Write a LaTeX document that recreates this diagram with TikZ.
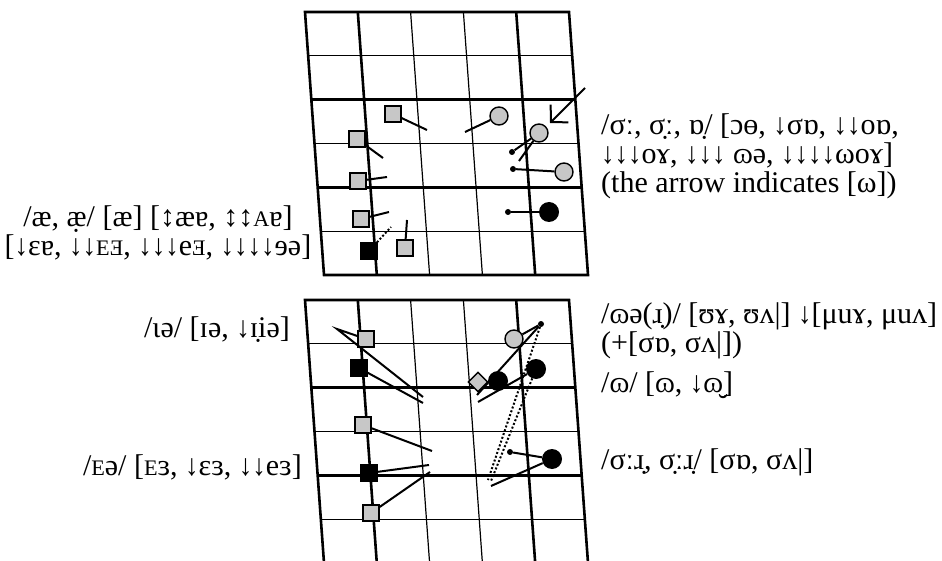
\documentclass[tikz,border=0pt]{standalone}
\usepackage{graphicx}
\usepackage{fontspec}
\setmainfont{Liberation Serif}
\usetikzlibrary{arrows.meta,shapes.geometric}

% freccia stretta e maiuscoletti finti
\newcommand{\dn}{\scalebox{0.9}[1]{\char"2193}}
\newcommand{\smc}[1]{\scalebox{0.74}{#1}}
\newcommand{\revE}{\reflectbox{\smc{E}}}

\begin{document}
\begin{tikzpicture}[
    x=1pt, y=-1pt,
    % Stili
    lab/.style={inner sep=0pt, font=\fontsize{30}{29}\selectfont},
    grid_thin/.style={line width=1.2pt},
    grid_thick/.style={line width=2.6pt},
    greysq/.style={rectangle, draw, line width=1.4pt, fill=black!22, minimum size=16pt, inner sep=0pt},
    blacksq/.style={greysq, fill=black},
    greydot/.style={circle, draw, line width=1.4pt, fill=black!22, minimum size=18pt, inner sep=0pt},
    blackdot/.style={circle, fill=black, minimum size=20pt, inner sep=0pt},
    smalldot/.style={circle, fill=black, minimum size=6pt, inner sep=0pt},
    greydiam/.style={diamond, draw, line width=1.4pt, fill=black!22, minimum size=20pt, inner sep=0pt},
    link/.style={line width=2pt},
    dotlink/.style={line width=2pt, dotted}
  ]
  \useasboundingbox (0,0) rectangle (942,561);

  % Griglia superiore
  \begin{scope}[shift={(305,12)}, x={(52.8pt,0pt)}, y={(3.1667pt,-43.83pt)}]
    \foreach \i in {2,3} \draw[grid_thin] (\i,0) -- (\i,6);
    \foreach \j in {1,3,5} \draw[grid_thin] (0,\j) -- (5,\j);
    \foreach \i in {1,4} \draw[grid_thick] (\i,0) -- (\i,6);
    \foreach \j in {2,4} \draw[grid_thick] (0,\j) -- (5,\j);
    \draw[grid_thick] (0,0) -- (5,0) -- (5,6) -- (0,6) -- cycle;
  \end{scope}

  % Griglia inferiore
  \begin{scope}[shift={(305,300)}, x={(52.8pt,0pt)}, y={(3.1667pt,-43.83pt)}]
    \foreach \i in {2,3} \draw[grid_thin] (\i,0) -- (\i,5.96);
    \foreach \j in {1,3,5} \draw[grid_thin] (0,\j) -- (5,\j);
    \foreach \i in {1,4} \draw[grid_thick] (\i,0) -- (\i,5.96);
    \foreach \j in {2,4} \draw[grid_thick] (0,\j) -- (5,\j);
    \draw[grid_thick] (0,5.96) -- (0,0) -- (5,0) -- (5,5.96);
  \end{scope}

  % Etichette
  \node[lab, align=center] (ae_lab) at (158,233) {/æ, æ̣/ [æ] [↕æɐ, ↕↕\smc{A}ɐ]\\{}[\dn ɛɐ, \dn\dn\smc{E}\revE, \dn\dn\dn e\revE, \dn\dn\dn\dn ɘə]};
  \node[lab, align=left, anchor=west] (aa_lab) at (601,156) {/σː, σ̣ː, ɒ̣/ [ɔɵ, \dn σɒ, \dn\dn oɒ,\\\dn\dn\dn oɤ, \dn\dn\dn{} ɷə, \dn\dn\dn\dn ωoɤ]\\(the arrow indicates [ω])};
  \node[lab, align=left, anchor=west] (ou_lab) at (601,331) {/ɷə(ɹ̣)/ [ʊɤ, ʊʌ|] \dn[μuɤ, μuʌ]\\(+[σɒ, σʌ|])};
  \node[lab, anchor=west] (o_lab) at (601,385) {/ɷ/ [ɷ, \dn ɷ̮]};
  \node[lab, anchor=west] (ar_lab) at (601,462) {/σːɹ̣, σ̣ːɹ̣/ [σɒ, σʌ|]};
  \node[lab, anchor=east] (ia_lab) at (290,330) {/ɩə/ [ɪə, \dn ɪ̣iə]};
  \node[lab, anchor=east] (ea_lab) at (302,467) {/\smc{E}ə/ [\smc{E}ɜ, \dn ɛɜ, \dn\dn eɜ]};

  % Nodi, griglia superiore
  \node[greysq] (sq_a) at (393,114) {};
  \coordinate (sq_a_end) at (427,130);
  \node[greydot] (ci_a) at (499,116) {};
  \coordinate (ci_a_end) at (465,132);
  \node[greysq] (sq_b) at (357,139) {};
  \coordinate (sq_b_end) at (383,158);
  \node[greydot] (ci_b) at (539,133) {};
  \node[smalldot] (dot_b) at (512,152) {};
  \coordinate (ci_b_end) at (519,161);
  \coordinate (arr_from) at (585,88);
  \coordinate (arr_to) at (550,123);
  \node[greydot] (ci_c) at (564,172) {};
  \node[smalldot] (dot_c) at (513,169) {};
  \node[greysq] (sq_c) at (358,181) {};
  \coordinate (sq_c_end) at (387,177);
  \node[greysq] (sq_d) at (361,219) {};
  \coordinate (sq_d_end) at (389,212);
  \node[blackdot] (bk_a) at (549,212) {};
  \node[smalldot] (dot_d) at (508,212) {};
  \node[blacksq] (bsq_a) at (369,251) {};
  \coordinate (bsq_a_end) at (391,227);
  \node[greysq] (sq_e) at (405,248) {};
  \coordinate (sq_e_end) at (407,220);

  % Nodi, griglia inferiore
  \node[greysq] (sq_f) at (366,339) {};
  \coordinate (sq_f_turn) at (337,329);
  \coordinate (sq_f_end) at (423,397);
  \node[blacksq] (bsq_b) at (359,368) {};
  \coordinate (bsq_b_end) at (423,403);
  \node[greysq] (sq_g) at (363,425) {};
  \coordinate (sq_g_end) at (432,451);
  \node[blacksq] (bsq_c) at (369,473) {};
  \coordinate (bsq_c_end) at (429,465);
  \node[greysq] (sq_h) at (371,513) {};
  \coordinate (sq_h_end) at (430,472);
  \node[greydot] (ci_d) at (514,339) {};
  \node[smalldot] (dot_e) at (541,324) {};
  \coordinate (dot_e_end) at (477,395);
  \coordinate (dot_e_dots) at (488,480);
  \node[greydiam] (dm_a) at (478,382) {};
  \node[blackdot] (bk_b) at (498,381) {};
  \node[blackdot] (bk_c) at (536,369) {};
  \coordinate (bk_c_start) at (478,402);
  \coordinate (bk_c_dots) at (491,481);
  \node[smalldot] (dot_f) at (510,452) {};
  \node[blackdot] (bk_d) at (552,459) {};
  \coordinate (bk_d_end) at (491,486);

  % Collegamenti, griglia superiore
  \draw[link] (sq_a) -- (sq_a_end);
  \draw[link] (ci_a) -- (ci_a_end);
  \draw[link] (sq_b) -- (sq_b_end);
  \draw[link] (ci_b) -- (dot_b);
  \draw[link] (ci_b) -- (ci_b_end);
  \draw[link, -{Straight Barb[length=12pt,width=25pt]}] (arr_from) -- (arr_to);
  \draw[link] (dot_c) -- (ci_c);
  \draw[link] (sq_c) -- (sq_c_end);
  \draw[link] (sq_d) -- (sq_d_end);
  \draw[link] (dot_d) -- (bk_a);
  \draw[dotlink] (bsq_a) -- (bsq_a_end);
  \draw[link] (sq_e) -- (sq_e_end);

  % Collegamenti, griglia inferiore
  \draw[link] (sq_f) -- (sq_f_turn) -- (sq_f_end);
  \draw[link] (bsq_b) -- (bsq_b_end);
  \draw[link] (sq_g) -- (sq_g_end);
  \draw[link] (bsq_c) -- (bsq_c_end);
  \draw[link] (sq_h) -- (sq_h_end);
  \draw[link] (dot_e) -- (ci_d);
  \draw[link] (dot_e) -- (dot_e_end);
  \draw[dotlink] (dot_e) -- (dot_e_dots);
  \draw[link] (bk_c_start) -- (bk_c);
  \draw[dotlink] (bk_c) -- (bk_c_dots);
  \draw[link] (dot_f) -- (bk_d);
  \draw[link] (bk_d) -- (bk_d_end);
\end{tikzpicture}
\end{document}
